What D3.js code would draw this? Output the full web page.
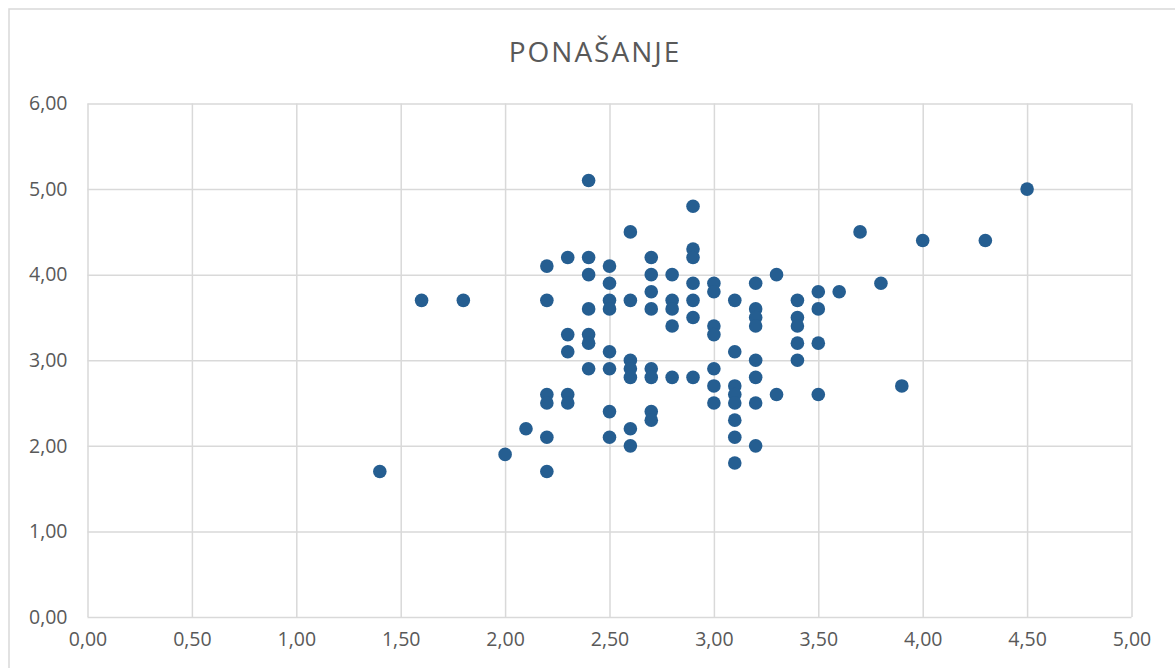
<!DOCTYPE html>
<html><head><meta charset="utf-8">
<script src="https://cdn.jsdelivr.net/npm/d3@7"></script>
<style>body{margin:0;background:#fff}svg{display:block}</style>
</head><body><svg id="c" width="1175" height="668"></svg>
<script>
const title = "PONAŠANJE";
const xTicks = [0,0.5,1,1.5,2,2.5,3,3.5,4,4.5,5];
const yTicks = [0,1,2,3,4,5,6];
const xValues = [
 1.4,1.6,1.8,2.0,2.1,
 2.2,2.2,2.2,2.2,2.2,2.2,
 2.3,2.3,2.3,2.3,2.3,
 2.4,2.4,2.4,2.4,2.4,2.4,2.4,
 2.5,2.5,2.5,2.5,2.5,2.5,2.5,2.5,
 2.6,2.6,2.6,2.6,2.6,2.6,2.6,
 2.7,2.7,2.7,2.7,2.7,2.7,2.7,2.7,
 2.8,2.8,2.8,2.8,2.8,
 2.9,2.9,2.9,2.9,2.9,2.9,2.9,
 3.0,3.0,3.0,3.0,3.0,3.0,3.0,
 3.1,3.1,3.1,3.1,3.1,3.1,3.1,3.1,
 3.2,3.2,3.2,3.2,3.2,3.2,3.2,3.2,
 3.3,3.3,
 3.4,3.4,3.4,3.4,3.4,
 3.5,3.5,3.5,3.5,
 3.6,3.7,3.8,3.9,4.0,4.3,4.5];
const yValues = [
 1.7,3.7,3.7,1.9,2.2,
 4.1,3.7,2.6,2.5,2.1,1.7,
 4.2,3.3,3.1,2.6,2.5,
 5.1,4.2,4.0,3.6,3.3,3.2,2.9,
 4.1,3.9,3.7,3.6,3.1,2.9,2.4,2.1,
 4.5,3.7,3.0,2.9,2.8,2.2,2.0,
 4.2,4.0,3.8,3.6,2.9,2.8,2.4,2.3,
 4.0,3.7,3.6,3.4,2.8,
 4.8,4.3,4.2,3.9,3.7,3.5,2.8,
 3.9,3.8,3.4,3.3,2.9,2.7,2.5,
 3.7,3.1,2.7,2.6,2.5,2.3,2.1,1.8,
 3.9,3.6,3.5,3.4,3.0,2.8,2.5,2.0,
 4.0,2.6,
 3.7,3.5,3.4,3.2,3.0,
 3.8,3.6,3.2,2.6,
 3.8,4.5,3.9,2.7,4.4,4.4,5.0];

const svg = d3.select("#c");
const fmt = v => d3.format(".2f")(v).replace(".", ",");
const L=87.5, R=1131.5, T=103.5, B=617;
const x = d3.scaleLinear().domain([0,5]).range([L,R]);
const y = d3.scaleLinear().domain([0,6]).range([B,T]);
const grid = "#d9d9d9", txt = "#595959", font = "'Open Sans', 'Noto Sans', sans-serif";

svg.append("rect").attr("x",9).attr("y",9).attr("width",1200).attr("height",700)
  .attr("fill","#fff").attr("stroke",grid).attr("stroke-width",1.5);

svg.append("text").attr("x",595).attr("y",62).attr("text-anchor","middle")
  .attr("font-family",font).attr("font-size",28).attr("letter-spacing",2)
  .attr("fill",txt).text(title);

const xa = svg.append("g").attr("transform",`translate(0,${B})`)
  .call(d3.axisBottom(x).tickValues(xTicks).tickSize(-(B-T)).tickFormat(fmt).tickPadding(15));
const ya = svg.append("g").attr("transform",`translate(${L},0)`)
  .call(d3.axisLeft(y).tickValues(yTicks).tickSize(-(R-L)).tickFormat(fmt).tickPadding(20));
[xa,ya].forEach(a=>{
  a.select(".domain").remove();
  a.selectAll(".tick line").attr("stroke",grid).attr("stroke-width",1.5);
  a.selectAll(".tick text").attr("fill",txt).attr("font-family",font).attr("font-size",19.5);
});

const pts = xValues.map((v,i)=>[v,yValues[i]]);
svg.append("g").selectAll("circle").data(pts).join("circle")
  .attr("cx",d=>x(d[0])).attr("cy",d=>y(d[1])).attr("r",6.8)
  .attr("fill","#255e91");
</script></body></html>
